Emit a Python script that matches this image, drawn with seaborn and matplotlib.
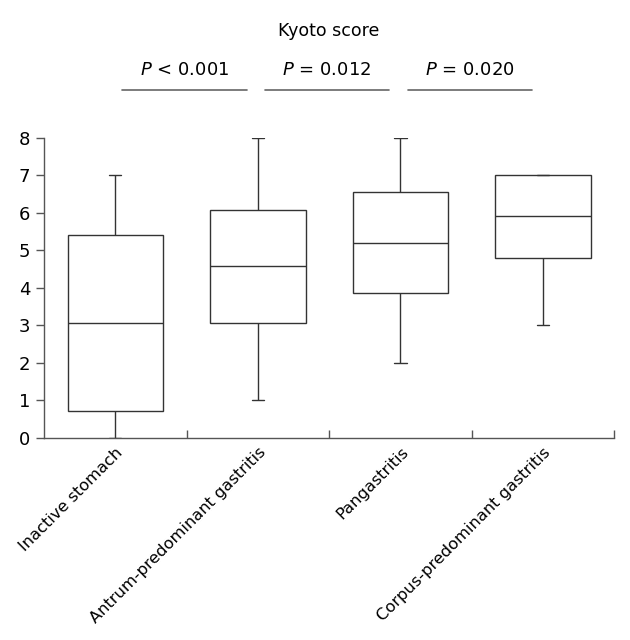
import pandas as pd
import matplotlib
matplotlib.use("Agg")
import matplotlib.pyplot as plt
import seaborn as sns

# -------------------------
# Data (min, Q1, median, Q3, max per group)
# -------------------------
groups = ["Inactive stomach", "Antrum-predominant gastritis",
          "Pangastritis", "Corpus-predominant gastritis"]
inactive = [0, 0.7, 3.07, 5.4, 7]
antrum = [1, 3.05, 4.57, 6.06, 8]
pangastritis = [2, 3.85, 5.19, 6.54, 8]
corpus = [3, 4.8, 5.92, 7, 7]

p_labels = ["< 0.001", "= 0.012", "= 0.020"]

# long-form table for seaborn
rows = []
for g, vals in zip(groups, [inactive, antrum, pangastritis, corpus]):
    for v in vals:
        rows.append({"group": g, "score": v})
df = pd.DataFrame(rows)

sns.set_style("ticks")
plt.rcParams["font.family"] = ["DejaVu Sans"]
plt.rcParams["text.color"] = "black"
plt.rcParams["xtick.labelcolor"] = "black"
plt.rcParams["ytick.labelcolor"] = "black"

line_col = "#333333"
axis_col = "#555555"

fig = plt.figure(figsize=(6.3, 6.4), dpi=100)
ax = fig.add_axes([0.07, 0.316, 0.905, 0.469])

sns.boxplot(data=df, x="group", y="score", order=groups, ax=ax,
            whis=(0, 100), width=0.67, color="white", linecolor=line_col,
            linewidth=1.0, capwidths=0.085, showfliers=False)

ax.set_xlim(-0.5, 3.5)
ax.set_ylim(0, 8)
ax.set_yticks(range(0, 9))
ax.set_xlabel("")
ax.set_ylabel("")

# spines / ticks
sns.despine(ax=ax)
for s in ["left", "bottom"]:
    ax.spines[s].set_color(axis_col)
    ax.spines[s].set_linewidth(1.0)
ax.tick_params(axis="y", direction="out", length=6, width=1.0,
               color=axis_col, labelsize=13, pad=4)
ax.tick_params(axis="x", which="major", length=0, pad=5)
ax.set_xticks([0.5, 1.5, 2.5, 3.5], minor=True)
ax.tick_params(axis="x", which="minor", direction="in", length=6,
               width=1.0, color=axis_col)
ax.set_xticks(range(len(groups)))
ax.set_xticklabels(groups, rotation=45, ha="right", va="top",
                   rotation_mode="anchor", fontsize=11.7)

# title and P value brackets above the plot
ax.text(1.5, 10.85, "Kyoto score", ha="center", va="center",
        fontsize=12.5, clip_on=False)
for i, lab in enumerate(p_labels):
    x0, x1 = i + 0.05, i + 0.92
    ax.plot([x0, x1], [9.26, 9.26], color="#666666", lw=1.2, clip_on=False)
    ax.text((x0 + x1) / 2, 9.8, r"$\it{P}$ " + lab, ha="center",
            va="center", fontsize=13, clip_on=False)

fig.savefig("out.png", dpi=100)
